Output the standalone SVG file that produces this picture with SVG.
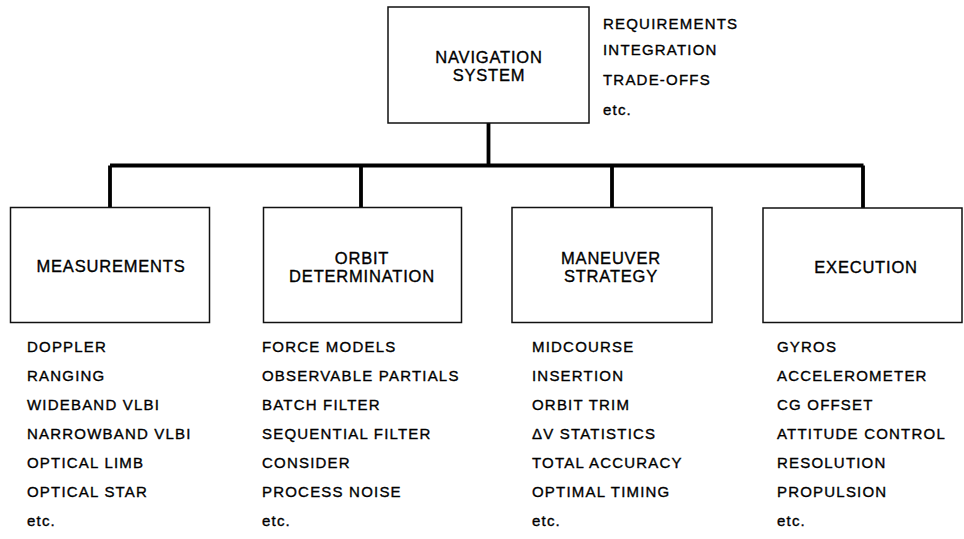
<svg xmlns="http://www.w3.org/2000/svg" width="964" height="539" viewBox="0 0 964 539">
<style>
.box{fill:#fff;stroke:#111;stroke-width:1.5}
.wire{fill:none;stroke:#000;stroke-width:3.8}
.t{font-family:"Liberation Sans",Arial,sans-serif;font-size:16.5px;letter-spacing:0.8px;fill:#000;stroke:#000;stroke-width:0.35px;text-anchor:middle}
.l{font-family:"Liberation Sans",Arial,sans-serif;font-size:15px;letter-spacing:1.2px;fill:#000;stroke:#000;stroke-width:0.35px}
</style>
<rect width="964" height="539" fill="#fff"/>
<g id="connectors">
<path class="wire" d="M488.5 123 V165.5 M110 165.5 H863.5 M110 165.5 V207 M361 165.5 V207 M612 165.5 V207 M863 165.5 V208"/>
</g>
<g id="navigation-system">
<rect class="box" x="388" y="7" width="201" height="116"/>
<text class="t" x="489" y="63">NAVIGATION</text>
<text class="t" x="489" y="81">SYSTEM</text>
<g class="l">
<text x="603" y="29">REQUIREMENTS</text>
<text x="603" y="55">INTEGRATION</text>
<text x="603" y="85">TRADE-OFFS</text>
<text x="603" y="115">etc.</text>
</g>
</g>
<g id="measurements">
<rect class="box" x="10.5" y="207.5" width="199" height="115"/>
<text class="t" x="111" y="272">MEASUREMENTS</text>
<g class="l">
<text x="27" y="352">DOPPLER</text>
<text x="27" y="381">RANGING</text>
<text x="27" y="410">WIDEBAND VLBI</text>
<text x="27" y="439">NARROWBAND VLBI</text>
<text x="27" y="468">OPTICAL LIMB</text>
<text x="27" y="497">OPTICAL STAR</text>
<text x="27" y="526">etc.</text>
</g>
</g>
<g id="orbit-determination">
<rect class="box" x="263.5" y="207.5" width="198" height="115"/>
<text class="t" x="362" y="264">ORBIT</text>
<text class="t" x="362" y="282">DETERMINATION</text>
<g class="l">
<text x="262" y="352">FORCE MODELS</text>
<text x="262" y="381">OBSERVABLE PARTIALS</text>
<text x="262" y="410">BATCH FILTER</text>
<text x="262" y="439">SEQUENTIAL FILTER</text>
<text x="262" y="468">CONSIDER</text>
<text x="262" y="497">PROCESS NOISE</text>
<text x="262" y="526">etc.</text>
</g>
</g>
<g id="maneuver-strategy">
<rect class="box" x="512" y="207.5" width="200" height="115"/>
<text class="t" x="611" y="264">MANEUVER</text>
<text class="t" x="611" y="282">STRATEGY</text>
<g class="l">
<text x="532" y="352">MIDCOURSE</text>
<text x="532" y="381">INSERTION</text>
<text x="532" y="410">ORBIT TRIM</text>
<text x="532" y="439">ΔV STATISTICS</text>
<text x="532" y="468">TOTAL ACCURACY</text>
<text x="532" y="497">OPTIMAL TIMING</text>
<text x="532" y="526">etc.</text>
</g>
</g>
<g id="execution">
<rect class="box" x="763" y="208" width="199" height="114.5"/>
<text class="t" x="866" y="273">EXECUTION</text>
<g class="l">
<text x="777" y="352">GYROS</text>
<text x="777" y="381">ACCELEROMETER</text>
<text x="777" y="410">CG OFFSET</text>
<text x="777" y="439">ATTITUDE CONTROL</text>
<text x="777" y="468">RESOLUTION</text>
<text x="777" y="497">PROPULSION</text>
<text x="777" y="526">etc.</text>
</g>
</g>
</svg>
